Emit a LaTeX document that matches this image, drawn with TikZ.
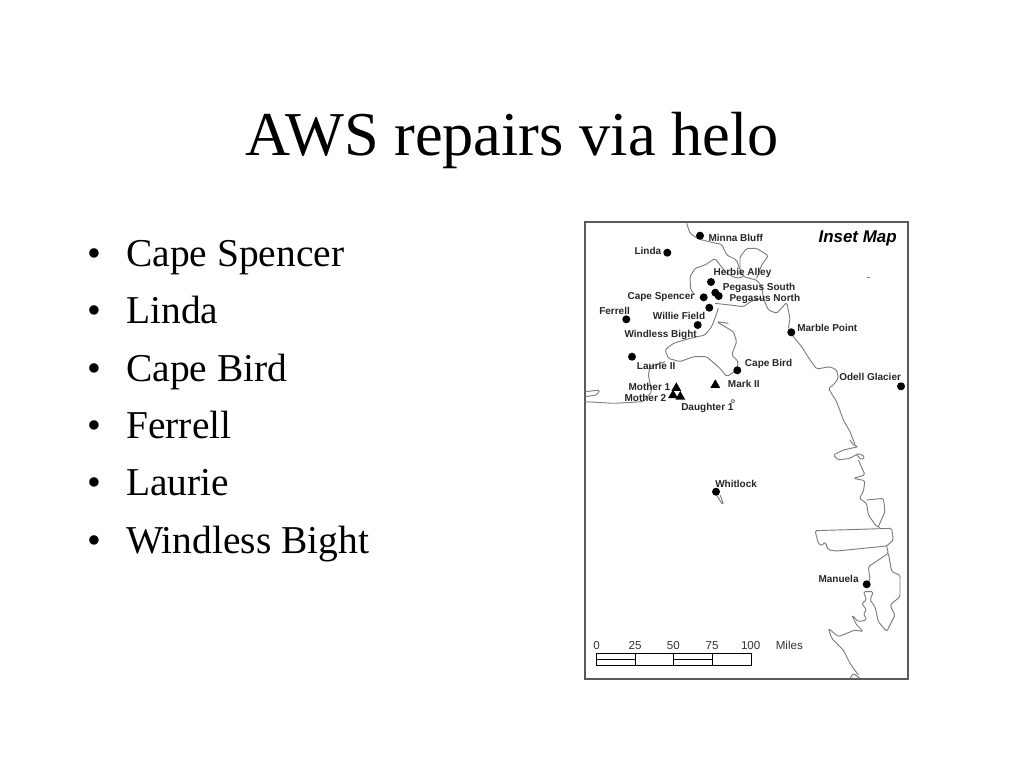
\documentclass[tikz,border=0pt]{standalone}
\usepackage{fontspec}
\setmainfont{Liberation Serif}
\newfontfamily\mapfont{Liberation Sans}
\usetikzlibrary{shapes.geometric}
\definecolor{framegray}{RGB}{90,90,90}
\definecolor{coastgray}{RGB}{125,125,125}
\tikzset{
  titletext/.style={anchor=base,inner sep=0pt,font=\fontsize{46.8}{47}\selectfont},
  bullettext/.style={anchor=base west,inner sep=0pt,font=\fontsize{29.6}{30}\selectfont},
  sitedot/.style={circle,fill=black,inner sep=0pt,minimum size=6pt},
  sitetri/.style={regular polygon,regular polygon sides=3,fill=black,inner sep=0pt,minimum size=8.5pt},
  sitelabel/.style={anchor=west,inner sep=0pt,font=\mapfont\bfseries\fontsize{7.5}{7.5}\selectfont,text=black!85},
  scalelabel/.style={inner sep=0pt,font=\mapfont\fontsize{8.7}{8.7}\selectfont,text=black!80},
  coast/.style={draw=coastgray,line width=0.7pt,line join=round,rounded corners=1.2pt},
}
\begin{document}
\begin{tikzpicture}[x=0.75pt,y=0.75pt,yscale=-1,xscale=1]
\useasboundingbox (0,0) rectangle (1024,768);

% Title and list
\node[titletext] (title) at (512,155) {AWS repairs via helo};
\foreach \n/\y/\t in {1/266.5/Cape Spencer,2/323.8/Linda,3/381.1/Cape Bird,4/438.5/Ferrell,5/495.9/Laurie,6/553.2/Windless Bight}{
  \node[bullettext] (bul\n) at (87,\y) {\textbullet};
  \node[bullettext] (item\n) at (126,\y) {\t};
}

% Map frame
\draw[framegray,line width=1.3pt] (585,222.3) rectangle (907.7,678.7);

% Coast, upper half
\begin{scope}[shift={(580,215)},x=0.25pt,y=0.25pt]
\draw[coast] (320,25) -- (330,55) -- (355,72) -- (395,82) -- (425,88) -- (440,120) -- (470,135) -- (480,165) -- (490,185) -- (510,190) -- (530,195) -- (545,215) -- (550,250) -- (565,285) -- (590,295) -- (620,262) -- (630,310) -- (625,340) -- (640,365) -- (665,395) -- (690,435) -- (710,462) -- (750,455) -- (770,465) -- (775,490) -- (760,510) -- (745,520) -- (770,560) -- (790,615) -- (810,650) -- (825,689);
\draw[coast] (480,165) -- (480,125) -- (500,100) -- (530,100) -- (565,122) -- (545,150) -- (530,190);
\draw[coast] (345,240) -- (332,225) -- (330,185) -- (345,160) -- (375,150) -- (405,130) -- (420,150) -- (440,175) -- (470,190) -- (490,185);
\draw[coast] (405,265) -- (450,270) -- (490,275) -- (520,255) -- (550,250);
\draw[coast] (415,280) -- (405,310) -- (395,335) -- (375,360) -- (330,370) -- (280,385) -- (255,405) -- (265,430) -- (300,440) -- (340,425) -- (380,425) -- (420,460) -- (440,485) -- (470,465) -- (475,440) -- (455,420) -- (470,380) -- (460,350) -- (435,335) -- (410,320) -- (445,325);
\draw[coast] (15,530) -- (60,525) -- (50,540) -- (15,545);
\draw[coast] (15,560) -- (100,565) -- (190,560) -- (215,530) -- (205,480) -- (210,455) -- (255,440);
\draw[coast] (455,565) -- (452,555) -- (462,552) -- (465,562) -- cycle;
\draw[coast,line width=1.2pt] (861,187) -- (869,187);
\end{scope}

% Coast, lower half
\begin{scope}[shift={(580,440)},x=0.25pt,y=0.25pt]
\draw[coast] (810,0) -- (820,15) -- (835,20) -- (790,30) -- (760,45) -- (775,60) -- (810,55) -- (835,40) -- (855,50) -- (845,60) -- (830,45);
\draw[coast] (835,60) -- (855,105) -- (820,115) -- (855,122) -- (850,155) -- (838,175) -- (860,190) -- (865,225) -- (890,260) -- (900,262);
\draw[coast] (860,180) -- (910,175) -- (915,215) -- (895,260);
\draw[coast] (705,272) -- (935,265) -- (940,300) -- (920,318) -- (770,333) -- (745,330) -- (735,305) -- (725,318) -- (715,310) -- cycle;
\draw[coast] (920,318) -- (925,340) -- (865,380) -- (870,420) -- (860,430);
\draw[coast] (925,340) -- (935,395) -- (960,405) -- (960,470) -- (930,495) -- (945,525) -- (920,575) -- (895,545) -- (885,500) -- (870,480) -- (880,455) -- (850,455) -- (860,480) -- (845,490) -- (860,510) -- (850,520) -- (860,540) -- (835,545) -- (815,525) -- (830,555) -- (850,575) -- (825,570) -- (775,590) -- (745,565) -- (755,595) -- (790,630) -- (810,670) -- (835,705);
\draw[coast] (810,715) -- (820,700) -- (840,715);
\draw[coast] (410,165) -- (425,190) -- (430,190) -- (420,165);
\end{scope}

% Sites
\foreach \s/\x/\y in {minna/700/235.7,linda/667.3/252.7,herbie/711/282,pegsouth/715.3/292.7,pegnorth/718.7/296,spencer/703.7/297.3,willie/709.3/307.7,ferrell/626.3/319.3,windless/697.7/325,laurie/632/356.7,bird/737.3/370.3,marble/791.3/332.3,odell/901/386.3,whitlock/716/491.7,manuela/866.7/584.3}{
  \node[sitedot] (\s) at (\x,\y) {};
}
\foreach \s/\x/\y in {mark/715.3/385,mothera/676.3/388,motherb/673/395.3,daughter/680.3/396.7}{
  \node[sitetri] (\s) at (\x,\y) {};
}

% Site labels
\foreach \s/\x/\y/\t in {minna/708.3/238/Minna Bluff,linda/634.3/250.5/Linda,herbie/713.3/273/Herbie Alley,pegsouth/722.7/288/Pegasus South,pegnorth/729.3/299.2/Pegasus North,spencer/627.3/297/Cape Spencer,willie/652.7/315.7/Willie Field,ferrell/599/311/Ferrell,windless/624.3/334.7/Windless Bight,laurie/636.7/366.3/Laurie II,bird/744.7/364/Cape Bird,marble/797/328/Marble Point,odell/839/376.7/Odell Glacier,mark/727.7/384.3/Mark II,mothera/628.3/387/Mother 1,motherb/624.3/398/Mother 2,daughter/681/408.3/Daughter 1,whitlock/715/484.3/Whitlock,manuela/818.3/578.7/Manuela}{
  \node[sitelabel] (lab\s) at (\x,\y) {\t};
}
\node[anchor=west,inner sep=0pt,font=\mapfont\bfseries\itshape\fontsize{12.7}{12.7}\selectfont] (inset) at (818.3,238) {Inset Map};

% Scale bar
\draw[black,line width=0.7pt] (596.3,653.3) rectangle (751,665.7);
\draw[black,line width=0.7pt] (596.3,659.3) -- (635,659.3) (673.3,659.3) -- (712,659.3);
\foreach \x in {635,673.3,712}{
  \draw[black,line width=0.7pt] (\x,653.3) -- (\x,665.7);
}
\foreach \x/\t in {596.7/0,635/25,673.3/50,712/75,750.7/100,789.3/Miles}{
  \node[scalelabel] (sc\t) at (\x,645.3) {\t};
}
\end{tikzpicture}
\end{document}
